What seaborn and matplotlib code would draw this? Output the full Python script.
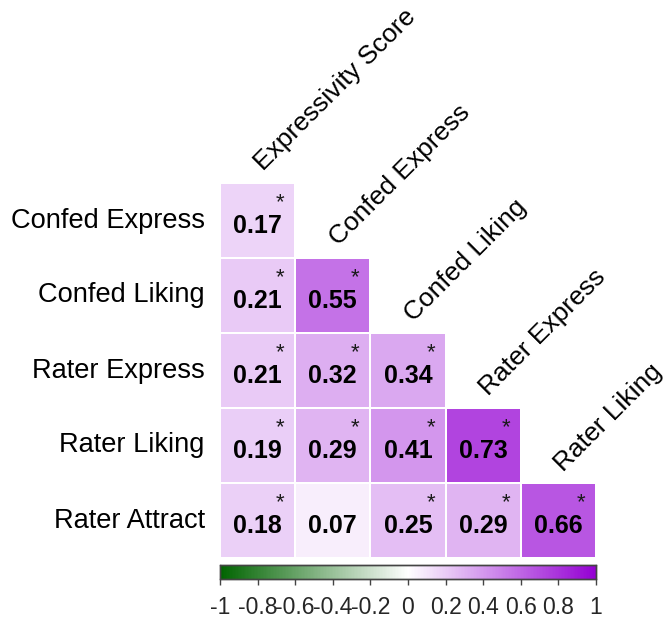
import numpy as np
import pandas as pd
import matplotlib
matplotlib.use("Agg")
import matplotlib.pyplot as plt
from matplotlib.colors import LinearSegmentedColormap
import seaborn as sns

# Correlation matrix (lower triangle incl. diagonal)
row_labels = ["Confed Express", "Confed Liking", "Rater Express", "Rater Liking", "Rater Attract"]
col_labels = ["Expressivity Score", "Confed Express", "Confed Liking", "Rater Express", "Rater Liking"]

r_confed_express = [0.17, np.nan, np.nan, np.nan, np.nan]
r_confed_liking = [0.21, 0.55, np.nan, np.nan, np.nan]
r_rater_express = [0.21, 0.32, 0.34, np.nan, np.nan]
r_rater_liking = [0.19, 0.29, 0.41, 0.73, np.nan]
r_rater_attract = [0.18, 0.07, 0.25, 0.29, 0.66]

# significance flags (p < .05)
sig_confed_express = [True, False, False, False, False]
sig_confed_liking = [True, True, False, False, False]
sig_rater_express = [True, True, True, False, False]
sig_rater_liking = [True, True, True, True, False]
sig_rater_attract = [True, False, True, True, True]

cbar_ticks = [-1, -0.8, -0.6, -0.4, -0.2, 0, 0.2, 0.4, 0.6, 0.8, 1]
cbar_ticklabels = ["-1", "-0.8", "-0.6", "-0.4", "-0.2", "0", "0.2", "0.4", "0.6", "0.8", "1"]

df = pd.DataFrame(
    [r_confed_express, r_confed_liking, r_rater_express, r_rater_liking, r_rater_attract],
    index=row_labels, columns=col_labels,
)
sig = np.array([sig_confed_express, sig_confed_liking, sig_rater_express,
                sig_rater_liking, sig_rater_attract])
mask = df.isna().values

sns.set_style("white")
plt.rcParams["font.family"] = ["Liberation Sans", "DejaVu Sans"]

cmap = LinearSegmentedColormap.from_list("gw_p", ["#006400", "#ffffff", "#9400D3"])

W, H = 668, 619
fig = plt.figure(figsize=(W / 100, H / 100), dpi=100)
ax = fig.add_axes([220 / W, 1 - 558 / H, 376 / W, 375 / H])
cax = fig.add_axes([220 / W, 1 - 579 / H, 376 / W, 14 / H])

sns.heatmap(df, mask=mask, cmap=cmap, vmin=-1, vmax=1, ax=ax, cbar_ax=cax,
            cbar_kws={"orientation": "horizontal", "ticks": cbar_ticks},
            linewidths=0.3, linecolor="white", square=False)

# cell annotations
n = len(row_labels)
for i in range(n):
    for j in range(n):
        if mask[i, j]:
            continue
        ax.text(j + 0.5, i + 0.57, f"{df.values[i, j]:.2f}", ha="center", va="center",
                fontsize=18, fontweight="bold", color="black")
        if sig[i, j]:
            ax.text(j + 0.8, i + 0.26, "*", ha="center", va="center",
                    fontsize=16, color="#1a1a1a")

# rotated column labels above the diagonal cells
ax.set_xticks([])
for j, lab in enumerate(col_labels):
    ax.text(j + 0.62, j - 0.1, lab, rotation=45, rotation_mode="anchor",
            ha="left", va="bottom", fontsize=19, color="black", clip_on=False)

ax.set_yticks(np.arange(n) + 0.5)
ax.set_yticklabels(row_labels, rotation=0, fontsize=19.6, color="black")
ax.tick_params(axis="y", length=0, pad=11)
ax.set_xlabel("")
ax.set_ylabel("")

# colorbar styling
cax.set_xticks(cbar_ticks)
cax.set_xticklabels(cbar_ticklabels, fontsize=16.5)
cax.tick_params(axis="x", length=4, width=1, color="#444444", pad=8, bottom=True)
for s in cax.spines.values():
    s.set_visible(True)
    s.set_color("#444444")
    s.set_linewidth(1)

fig.savefig("out.png", dpi=100, facecolor="white")
